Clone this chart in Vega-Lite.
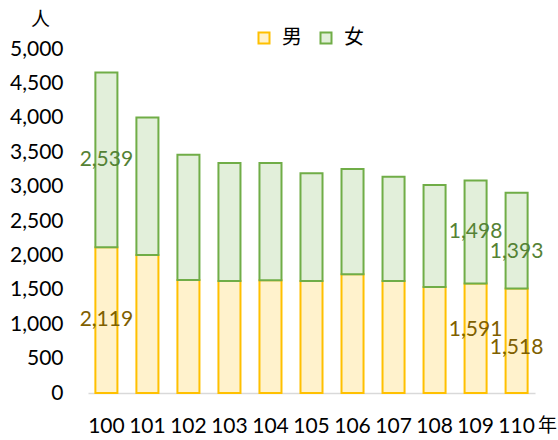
{
  "$schema": "https://vega.github.io/schema/vega-lite/v6.json",
  "width": 447,
  "height": 344,
  "autosize": {"type": "none"},
  "padding": {"left": 88, "top": 49, "right": 23, "bottom": 47},
  "background": "white",
  "config": {"view": {"stroke": null}, "font": "Lato"},
  "resolve": {"axis": {"y": "independent"}},
  "data": {
    "values": [
      {"year": "100", "gender": "男", "count": 2119},
      {"year": "100", "gender": "女", "count": 2539},
      {"year": "101", "gender": "男", "count": 2006},
      {"year": "101", "gender": "女", "count": 1998},
      {"year": "102", "gender": "男", "count": 1642},
      {"year": "102", "gender": "女", "count": 1822},
      {"year": "103", "gender": "男", "count": 1628},
      {"year": "103", "gender": "女", "count": 1715},
      {"year": "104", "gender": "男", "count": 1640},
      {"year": "104", "gender": "女", "count": 1703},
      {"year": "105", "gender": "男", "count": 1628},
      {"year": "105", "gender": "女", "count": 1565},
      {"year": "106", "gender": "男", "count": 1725},
      {"year": "106", "gender": "女", "count": 1531},
      {"year": "107", "gender": "男", "count": 1628},
      {"year": "107", "gender": "女", "count": 1516},
      {"year": "108", "gender": "男", "count": 1541},
      {"year": "108", "gender": "女", "count": 1482},
      {"year": "109", "gender": "男", "count": 1591},
      {"year": "109", "gender": "女", "count": 1498},
      {"year": "110", "gender": "男", "count": 1518},
      {"year": "110", "gender": "女", "count": 1393}
    ]
  },
  "transform": [
    {"stack": "count", "groupby": ["year"], "sort": [{"field": "gender", "order": "descending"}], "as": ["y0", "y1"]},
    {"calculate": "(datum.y0 + datum.y1) / 2", "as": "mid"}
  ],
  "encoding": {
    "x": {
      "field": "year", "type": "ordinal",
      "scale": {"paddingInner": 0.463, "paddingOuter": 0.18},
      "axis": {
        "title": "年", "titleFont": "Noto Sans CJK TC", "titleFontSize": 19, "titleFontWeight": "normal",
        "titleX": 459, "titleY": 32, "titleAlign": "center", "titleBaseline": "middle", "titleAngle": 0, "titleColor": "#000000",
        "labelAngle": 0, "labelFont": "Lato", "labelFontSize": 21, "labelColor": "#000000", "labelPadding": 22,
        "ticks": false, "tickSize": 0, "domainColor": "#d9d9d9", "domainWidth": 1.5
      }
    }
  },
  "layer": [
    {
      "mark": {"type": "bar", "strokeWidth": 2},
      "encoding": {
        "y": {
          "field": "y1", "type": "quantitative",
          "scale": {"domain": [0, 5000], "nice": false},
          "axis": {
            "values": [0, 500, 1000, 1500, 2000, 2500, 3000, 3500, 4000, 4500, 5000],
            "format": ",d", "grid": false, "domain": false, "ticks": false, "tickSize": 0,
            "labelFont": "Lato", "labelFontSize": 21, "labelColor": "#000000", "labelPadding": 25,
            "title": "人", "titleFont": "Noto Sans CJK TC", "titleFontSize": 19, "titleFontWeight": "normal",
            "titleAngle": 0, "titleX": -48, "titleY": -30, "titleAlign": "center", "titleBaseline": "middle", "titleColor": "#000000"
          }
        },
        "y2": {"field": "y0"},
        "fill": {
          "field": "gender", "type": "nominal",
          "scale": {"domain": ["男", "女"], "range": ["#FFF2CC", "#E2EFDA"]},
          "legend": {
            "title": null, "orient": "none", "direction": "horizontal", "legendX": 166, "legendY": -21,
            "symbolType": "square", "symbolSize": 121, "symbolStrokeWidth": 2,
            "labelFont": "Noto Sans CJK TC", "labelFontSize": 20, "labelColor": "#000000",
            "labelOffset": 8, "columnPadding": 14
          }
        },
        "stroke": {
          "field": "gender", "type": "nominal",
          "scale": {"domain": ["男", "女"], "range": ["#FFC000", "#70AD47"]},
          "legend": {
            "title": null, "orient": "none", "direction": "horizontal", "legendX": 166, "legendY": -21,
            "symbolType": "square", "symbolSize": 121, "symbolStrokeWidth": 2,
            "labelFont": "Noto Sans CJK TC", "labelFontSize": 20, "labelColor": "#000000",
            "labelOffset": 8, "columnPadding": 14
          }
        }
      }
    },
    {
      "transform": [{"filter": "datum.year == '100' || (datum.year == '109' && datum.gender == '女')"}],
      "mark": {"type": "text", "font": "Lato", "fontSize": 21, "baseline": "middle"},
      "encoding": {
        "y": {"field": "mid", "type": "quantitative", "axis": null},
        "text": {"field": "count", "type": "quantitative", "format": ","},
        "color": {"field": "gender", "type": "nominal", "scale": {"domain": ["男", "女"], "range": ["#7F6000", "#548235"]}, "legend": null}
      }
    },
    {
      "transform": [{"filter": "datum.year == '110' && datum.gender == '女'"}],
      "mark": {"type": "text", "font": "Lato", "fontSize": 21, "baseline": "middle", "dy": 11, "color": "#548235"},
      "encoding": {
        "y": {"field": "mid", "type": "quantitative", "axis": null},
        "text": {"field": "count", "type": "quantitative", "format": ","}
      }
    },
    {
      "transform": [{"filter": "datum.year == '109' && datum.gender == '男'"}],
      "mark": {"type": "text", "font": "Lato", "fontSize": 21, "baseline": "middle", "dy": -8, "color": "#7F6000"},
      "encoding": {
        "y": {"field": "mid", "type": "quantitative", "axis": null},
        "text": {"field": "count", "type": "quantitative", "format": ","}
      }
    },
    {
      "transform": [{"filter": "datum.year == '110' && datum.gender == '男'"}],
      "mark": {"type": "text", "font": "Lato", "fontSize": 21, "baseline": "middle", "dy": 7, "color": "#7F6000"},
      "encoding": {
        "y": {"field": "mid", "type": "quantitative", "axis": null},
        "text": {"field": "count", "type": "quantitative", "format": ","}
      }
    }
  ]
}
